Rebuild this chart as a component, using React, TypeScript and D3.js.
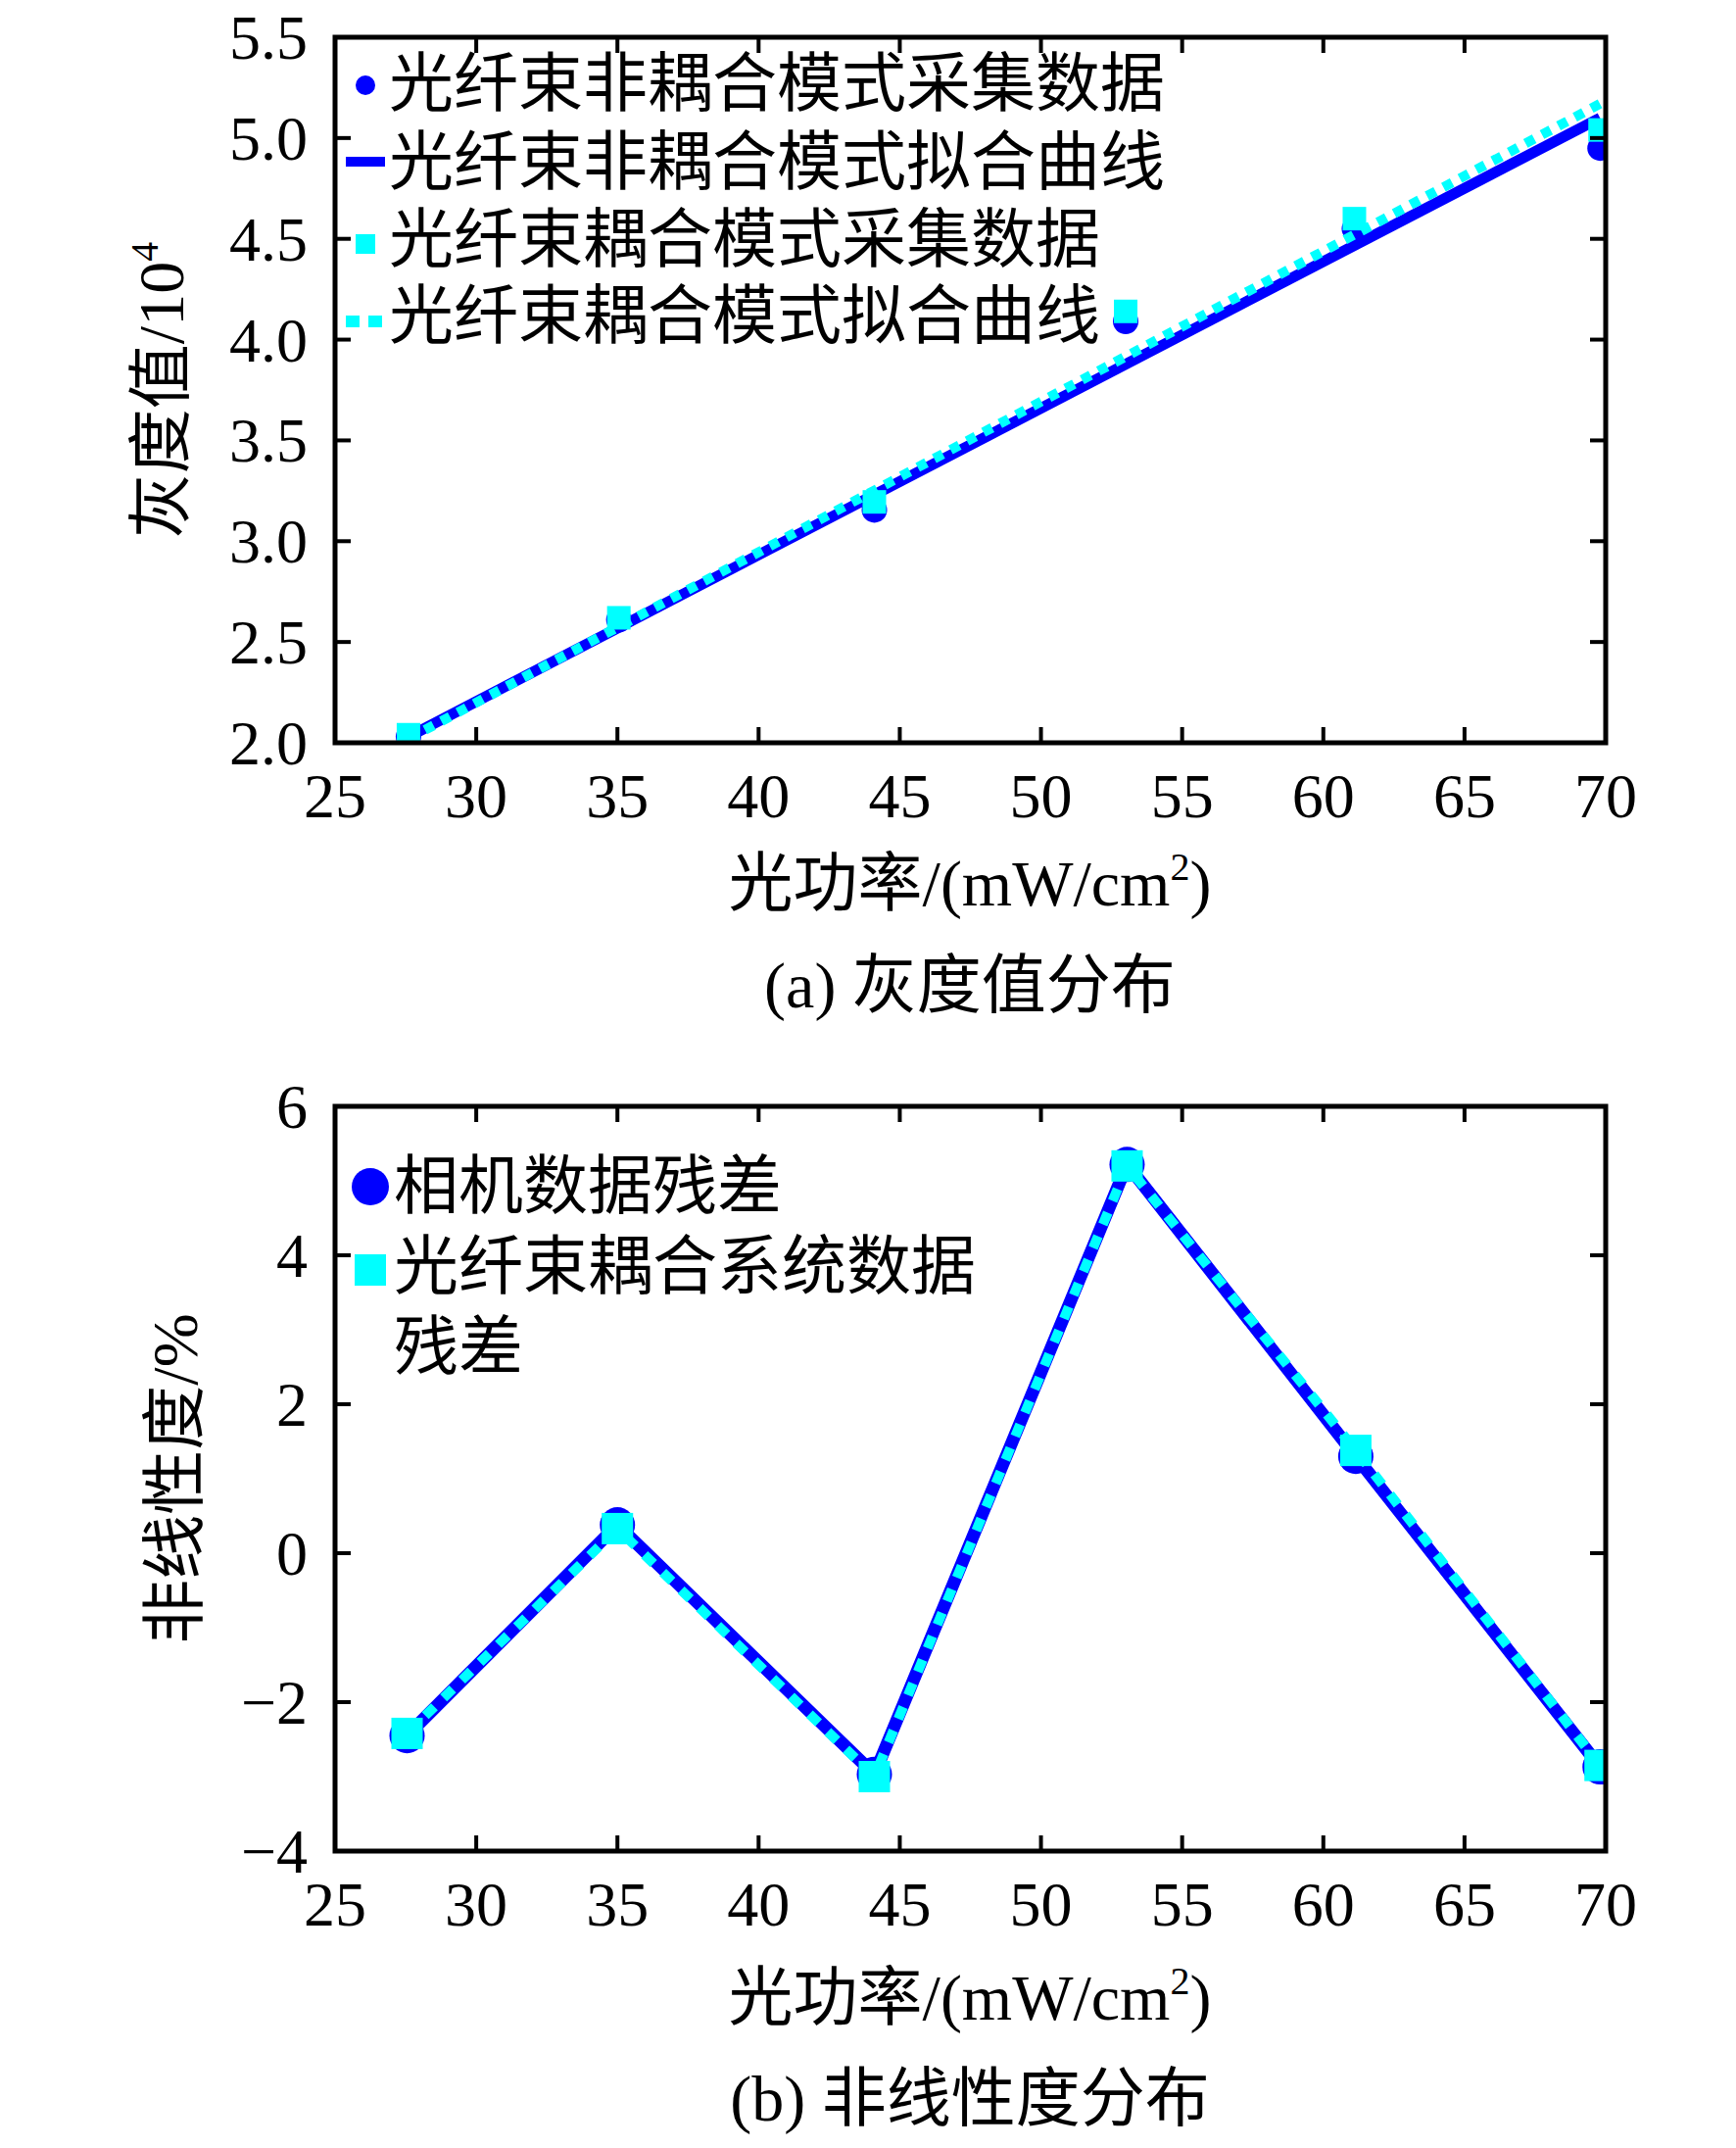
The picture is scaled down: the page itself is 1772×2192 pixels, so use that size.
import React from 'react';
import * as d3 from 'd3';

// ---- data ----
const xTicks = [25, 30, 35, 40, 45, 50, 55, 60, 65, 70];
const grayTicks = [2.0, 2.5, 3.0, 3.5, 4.0, 4.5, 5.0, 5.5];
const residualTicks = [-4, -2, 0, 2, 4, 6];

// (a) gray value
const powerX = [27.6, 35.05, 44.1, 53.0, 61.1, 69.8];
const grayNonCoupled = [2.03, 2.61, 3.155, 4.09, 4.55, 4.95];
const grayCoupled = [2.04, 2.62, 3.195, 4.14, 4.6, 5.04];
const fitX = [27.6, 69.8];
const fitNonCoupled = [2.03, 5.1];
const fitCoupled = [2.02, 5.17];

// (b) nonlinearity
const residualX = [27.55, 35.0, 44.1, 53.05, 61.15, 69.8];
const residualCamera = [-2.45, 0.38, -2.97, 5.22, 1.3, -2.87];
const residualCoupled = [-2.42, 0.33, -3.0, 5.2, 1.38, -2.85];

const legendTop = ['光纤束非耦合模式采集数据', '光纤束非耦合模式拟合曲线', '光纤束耦合模式采集数据', '光纤束耦合模式拟合曲线'];
const legendBottom = ['相机数据残差', '光纤束耦合系统数据', '残差'];

const BLUE = '#0000ff';
const CYAN = '#00ffff';
const SERIF = "'Liberation Serif', 'Times New Roman', 'Noto Sans CJK SC', serif";

const W = 1772;
const H = 2192;
const left = 342;
const right = 1639;
const tickLen = 16;

const fmtNeg = (v: number) => (v < 0 ? '\u2212' + Math.abs(v) : String(v));

interface FrameProps {
  x: d3.ScaleLinear<number, number>;
  y: d3.ScaleLinear<number, number>;
  yTicks: number[];
  fmt: (v: number) => string;
}

const Frame: React.FC<FrameProps> = ({ x, y, yTicks, fmt }) => {
  const [y0, y1] = y.range();
  const bottom = Math.max(y0, y1);
  const top = Math.min(y0, y1);
  return (
    <g>
      {xTicks.map(t => (
        <g key={'x' + t}>
          <line x1={x(t)} x2={x(t)} y1={bottom} y2={bottom - tickLen} stroke="#000" strokeWidth={4} />
          <line x1={x(t)} x2={x(t)} y1={top} y2={top + tickLen} stroke="#000" strokeWidth={4} />
          <text x={x(t)} y={bottom + 76} textAnchor="middle" fontSize={64} fontFamily={SERIF}>{t}</text>
        </g>
      ))}
      {yTicks.map(t => (
        <g key={'y' + t}>
          <line x1={left} x2={left + tickLen} y1={y(t)} y2={y(t)} stroke="#000" strokeWidth={4} />
          <line x1={right} x2={right - tickLen} y1={y(t)} y2={y(t)} stroke="#000" strokeWidth={4} />
          <text x={314} y={y(t) + 22} textAnchor="end" fontSize={64} fontFamily={SERIF}>{fmt(t)}</text>
        </g>
      ))}
      <rect x={left} y={top} width={right - left} height={bottom - top} fill="none" stroke="#000" strokeWidth={5} />
    </g>
  );
};

const XTitle: React.FC<{ y: number }> = ({ y }) => (
  <text x={990} y={y} textAnchor="middle" fontSize={66} fontFamily={SERIF}>
    光功率/(mW/cm<tspan fontSize={40} dy={-26}>2</tspan><tspan dy={26}>)</tspan>
  </text>
);

export default function App() {
  const x = d3.scaleLinear().domain([25, 70]).range([left, right]);
  const yTop = d3.scaleLinear().domain([2.0, 5.5]).range([758, 38]);
  const yBot = d3.scaleLinear().domain([-4, 6]).range([1889, 1129]);

  const lineTop = (ys: number[]) =>
    d3.line<number>().x((_, i) => x(fitX[i])).y(d => yTop(d))(ys) || '';
  const lineBot = (ys: number[]) =>
    d3.line<number>().x((_, i) => x(residualX[i])).y(d => yBot(d))(ys) || '';

  return (
    <svg width={W} height={H} viewBox={`0 0 ${W} ${H}`} style={{ position: 'absolute', left: 0, top: 0, background: '#fff' }}>
      <defs>
        <clipPath id="clipTop"><rect x={left} y={38} width={right - left} height={720} /></clipPath>
        <clipPath id="clipBot"><rect x={left} y={1129} width={right - left} height={760} /></clipPath>
      </defs>
      <rect width={W} height={H} fill="#fff" />

      {/* ---------- (a) ---------- */}
      <g clipPath="url(#clipTop)">
        {powerX.map((px, i) => (
          <circle key={'c' + i} cx={x(px)} cy={yTop(grayNonCoupled[i])} r={13} fill={BLUE} />
        ))}
        <path d={lineTop(fitNonCoupled)} stroke={BLUE} strokeWidth={11} fill="none" />
        {powerX.map((px, i) => (
          <rect key={'s' + i} x={x(px) - 12} y={yTop(grayCoupled[i]) - 12} width={24} height={24} fill={CYAN} />
        ))}
        <path d={lineTop(fitCoupled)} stroke={CYAN} strokeWidth={10} strokeDasharray="10,9" fill="none" />
      </g>
      <Frame x={x} y={yTop} yTicks={grayTicks} fmt={v => v.toFixed(1)} />

      {/* legend (a) */}
      <circle cx={373} cy={87} r={10} fill={BLUE} />
      <line x1={353} x2={393} y1={165} y2={165} stroke={BLUE} strokeWidth={10} />
      <rect x={363} y={239} width={20} height={20} fill={CYAN} />
      <line x1={353} x2={393} y1={328} y2={328} stroke={CYAN} strokeWidth={12} strokeDasharray="14,9" />
      {legendTop.map((s, i) => (
        <text key={s} x={397} y={[83, 163, 242, 320][i] + 25} fontSize={66} fontFamily={SERIF}>{s}</text>
      ))}

      <text transform="translate(187,398) rotate(-90)" textAnchor="middle" fontSize={66} fontFamily={SERIF}>
        灰度值/10<tspan fontSize={40} dy={-26}>4</tspan>
      </text>
      <XTitle y={924} />
      <text x={990} y={1028} textAnchor="middle" fontSize={66} fontFamily={SERIF}>(a) 灰度值分布</text>

      {/* ---------- (b) ---------- */}
      <g clipPath="url(#clipBot)">
        <path d={lineBot(residualCamera)} stroke={BLUE} strokeWidth={13} fill="none" />
        {residualX.map((px, i) => (
          <circle key={'bc' + i} cx={x(px)} cy={yBot(residualCamera[i])} r={18} fill={BLUE} />
        ))}
        <path d={lineBot(residualCoupled)} stroke={CYAN} strokeWidth={10} strokeDasharray="13,13" fill="none" />
        {residualX.map((px, i) => (
          <rect key={'bs' + i} x={x(px) - 16} y={yBot(residualCoupled[i]) - 16} width={32} height={32} fill={CYAN} />
        ))}
      </g>
      <Frame x={x} y={yBot} yTicks={residualTicks} fmt={fmtNeg} />

      {/* legend (b) */}
      <circle cx={378} cy={1211} r={19} fill={BLUE} />
      <rect x={362} y={1280} width={32} height={32} fill={CYAN} />
      {legendBottom.map((s, i) => (
        <text key={s} x={402} y={[1208, 1290, 1372][i] + 25} fontSize={66} fontFamily={SERIF}>{s}</text>
      ))}

      <text transform="translate(201,1509) rotate(-90)" textAnchor="middle" fontSize={66} fontFamily={SERIF}>
        非线性度/%
      </text>
      <XTitle y={2061} />
      <text x={990} y={2164} textAnchor="middle" fontSize={66} fontFamily={SERIF}>(b) 非线性度分布</text>
    </svg>
  );
}
